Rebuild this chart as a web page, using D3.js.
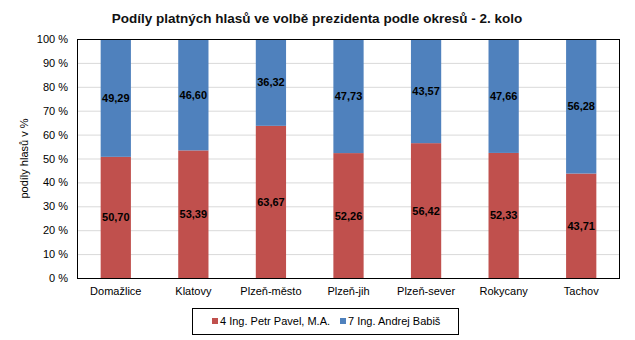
<!DOCTYPE html>
<html><head><meta charset="utf-8">
<script src="https://cdn.jsdelivr.net/npm/d3@7"></script>
<style>body{margin:0;background:#fff;font-family:"Liberation Sans",Arial,sans-serif;}</style>
</head><body><svg id="c" width="635" height="340"></svg>
<script>
const categories = ["Domažlice","Klatovy","Plzeň-město","Plzeň-jih","Plzeň-sever","Rokycany","Tachov"];
const pavel = [50.70,53.39,63.67,52.26,56.42,52.33,43.71];
const babis = [49.29,46.60,36.32,47.73,43.57,47.66,56.28];
const seriesNames = ["4 Ing. Petr Pavel, M.A.","7 Ing. Andrej Babiš"];
const colors = ["#C0504D","#4F81BD"];
const yTicks = [0,10,20,30,40,50,60,70,80,90,100];

const svg = d3.select("#c");
const L=77,R=620,T=39,B=278;
const x = d3.scaleBand().domain(categories).range([L,R]).paddingInner(0.61).paddingOuter(0.305);
const y = d3.scaleLinear().domain([0,100]).range([B,T]);
const fmt = v => v.toFixed(2).replace(".",",");

svg.append("text").attr("x",317).attr("y",23).attr("text-anchor","middle")
  .attr("font-size",13.5).attr("font-weight","bold").attr("fill","#111").text("Podíly platných hlasů ve volbě prezidenta podle okresů  - 2. kolo");

// grid
svg.append("g").selectAll("line").data(yTicks).join("line")
  .attr("x1",L).attr("x2",R).attr("y1",d=>y(d)+0.5).attr("y2",d=>y(d)+0.5)
  .attr("stroke","#d9d9d9").attr("stroke-width",1);

// y axis labels
const ya = svg.append("g").attr("transform",`translate(${L},0)`)
  .call(d3.axisLeft(y).tickValues(yTicks).tickSize(0).tickPadding(9).tickFormat(d=>d+" %"));
ya.select(".domain").remove();
ya.selectAll("text").attr("font-size",11).attr("font-family","Liberation Sans, Arial").attr("fill","#000");

svg.append("text").attr("transform",`translate(28,${(T+B)/2}) rotate(-90)`).attr("text-anchor","middle")
  .attr("font-size",11).attr("fill","#000").text("podíly hlasů v %");

const stackData = categories.map((c,i)=>({cat:c,p:pavel[i],b:babis[i]}));
const g = svg.append("g");
stackData.forEach(d=>{
  const total=d.p+d.b;
  g.append("rect").attr("x",x(d.cat)).attr("width",x.bandwidth())
    .attr("y",y(d.p)).attr("height",y(0)-y(d.p)).attr("fill",colors[0]);
  g.append("rect").attr("x",x(d.cat)).attr("width",x.bandwidth())
    .attr("y",y(100)).attr("height",y(d.p)-y(100)).attr("fill",colors[1]);
  g.append("text").attr("x",x(d.cat)+x.bandwidth()/2).attr("y",y(d.p/2)+4).attr("text-anchor","middle")
    .attr("font-size",11).attr("font-weight","bold").attr("fill","#000").text(fmt(d.p));
  g.append("text").attr("x",x(d.cat)+x.bandwidth()/2).attr("y",y(d.p+(100-d.p)/2)+4).attr("text-anchor","middle")
    .attr("font-size",11).attr("font-weight","bold").attr("fill","#000").text(fmt(d.b));
});

svg.append("rect").attr("x",L+0.5).attr("y",T+0.5).attr("width",R-L-1).attr("height",B-T).attr("fill","none").attr("stroke","#000");

const xa = svg.append("g").attr("transform",`translate(0,${B})`)
  .call(d3.axisBottom(x).tickSize(0).tickPadding(9));
xa.select(".domain").remove();
xa.selectAll("text").attr("font-size",11).attr("font-family","Liberation Sans, Arial").attr("fill","#000");

// legend
const lg = svg.append("g");
lg.append("rect").attr("x",192.5).attr("y",308.5).attr("width",266).attr("height",26).attr("fill","#fff").attr("stroke","#000");
const lx=[212,340];
seriesNames.forEach((n,i)=>{
  lg.append("rect").attr("x",lx[i]).attr("y",318).attr("width",6).attr("height",6).attr("fill",colors[i]);
  lg.append("text").attr("x",lx[i]+8).attr("y",325).attr("font-size",11).attr("fill","#000").text(n);
});
</script></body></html>
